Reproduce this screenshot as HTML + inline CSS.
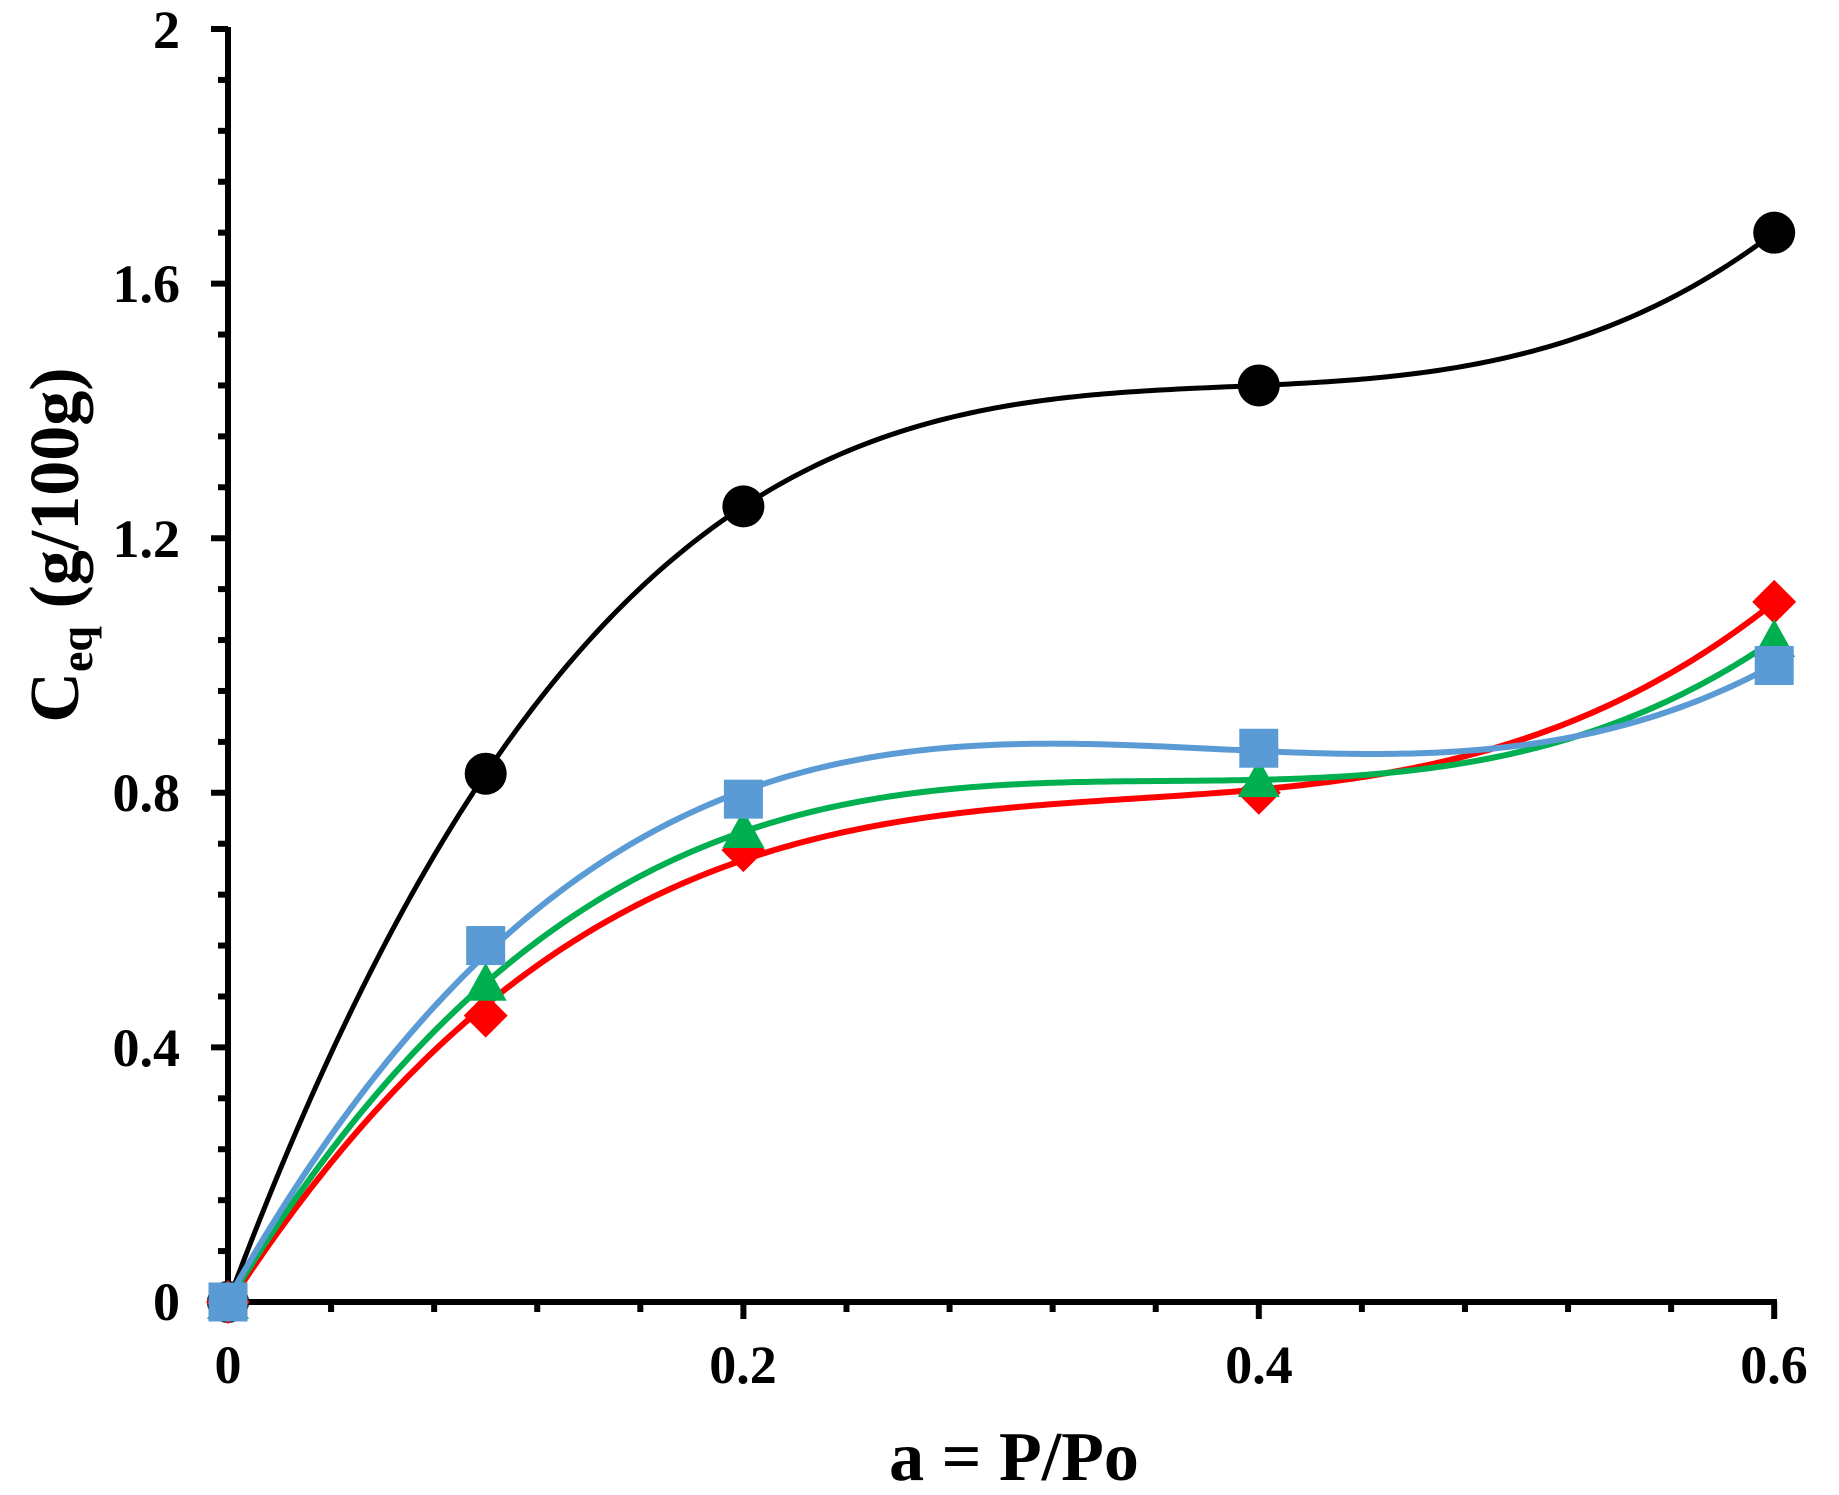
<!DOCTYPE html>
<html><head><meta charset="utf-8"><style>
html,body{margin:0;padding:0;background:#fff;}
svg{display:block;}
</style></head><body>
<svg id="s" width="1839" height="1495" viewBox="0 0 1839 1495" xmlns="http://www.w3.org/2000/svg">
<g id="axes" stroke="#000" stroke-width="6" fill="none">
<line x1="228" y1="27" x2="228" y2="1305"/>
<line x1="225" y1="1302" x2="1777" y2="1302"/>
</g>
<g id="ticks" stroke="#000" stroke-width="6"></g>
<g id="series"></g>
<g font-family="'Liberation Serif', 'Times New Roman', Times, serif" font-weight="bold" fill="#000">
<g font-size="54">
<text x="180" y="48" text-anchor="end">2</text>
<text x="180" y="302" text-anchor="end">1.6</text>
<text x="180" y="557" text-anchor="end">1.2</text>
<text x="180" y="811" text-anchor="end">0.8</text>
<text x="180" y="1066" text-anchor="end">0.4</text>
<text x="180" y="1320" text-anchor="end">0</text>
<text x="228" y="1383" text-anchor="middle">0</text>
<text x="743" y="1383" text-anchor="middle">0.2</text>
<text x="1259" y="1383" text-anchor="middle">0.4</text>
<text x="1774" y="1383" text-anchor="middle">0.6</text>
</g>
<text x="1014" y="1480" text-anchor="middle" font-size="70">a = P/Po</text>
<text transform="translate(78,545) rotate(-90)" text-anchor="middle" font-size="70">C<tspan font-size="46" dy="14">eq</tspan><tspan dy="-14"> (g/100g)</tspan></text>
</g>
</svg>
<script>
function X(v){return 228+v*2577;}
function Y(v){return 1302-v*636.5;}
var tk=document.getElementById("ticks"),h="";
for(var i=0;i<=15;i++){var x=X(i*0.04);var L=(i%5==0)?17:10;h+='<line x1="'+x+'" y1="1302" x2="'+x+'" y2="'+(1302+L)+'"/>';}
for(var j=0;j<=25;j++){var y=Y(j*0.08);var L=(j%5==0)?17:10;h+='<line x1="'+(228-L)+'" y1="'+y+'" x2="228" y2="'+y+'"/>';}
tk.innerHTML=h;
var xs=[0,0.1,0.2,0.4,0.6];
var S=[
 {c:"#000000",v:[0,0.83,1.25,1.44,1.68],m:"o",w:5,deg:4},
 {c:"#FF0000",v:[0,0.45,0.71,0.80,1.10],m:"d",w:6,deg:3},
 {c:"#00B050",v:[0,0.50,0.74,0.82,1.04],m:"t",w:6,deg:3},
 {c:"#5B9BD5",v:[0,0.56,0.79,0.87,1.00],m:"s",w:6,deg:3}
];
function fit(v,deg){
 var n=deg+1,A=[],b=[];
 for(var r=0;r<n;r++){A.push([]);b.push(0);for(var c=0;c<n;c++){var s=0;for(var i=0;i<5;i++)s+=Math.pow(xs[i],r+c);A[r].push(s);}for(var i=0;i<5;i++)b[r]+=v[i]*Math.pow(xs[i],r);}
 for(var k=0;k<n;k++){var p=k;for(var r=k+1;r<n;r++)if(Math.abs(A[r][k])>Math.abs(A[p][k]))p=r;
  var t=A[k];A[k]=A[p];A[p]=t;t=b[k];b[k]=b[p];b[p]=t;
  for(var r=k+1;r<n;r++){var f=A[r][k]/A[k][k];for(var c=k;c<n;c++)A[r][c]-=f*A[k][c];b[r]-=f*b[k];}}
 var co=new Array(n);
 for(var k=n-1;k>=0;k--){var s=b[k];for(var c=k+1;c<n;c++)s-=A[k][c]*co[c];co[k]=s/A[k][k];}
 return co;
}
function ev(co,x){var s=0;for(var i=co.length-1;i>=0;i--)s=s*x+co[i];return s;}
var out="";
S.forEach(function(s){
 var co=fit(s.v,s.deg),d="";
 for(var n=0;n<=300;n++){var x=0.6*n/300;d+=(n?" L":"M")+X(x).toFixed(2)+","+Y(ev(co,x)).toFixed(2);}
 out+='<path d="'+d+'" fill="none" stroke="'+s.c+'" stroke-width="'+s.w+'" stroke-linejoin="round"/>';
 xs.forEach(function(xx,i){
  var x=X(xx),y=Y(s.v[i]);
  if(s.m=="o")out+='<circle cx="'+x+'" cy="'+y+'" r="21" fill="'+s.c+'"/>';
  if(s.m=="s")out+='<rect x="'+(x-19.5)+'" y="'+(y-19.5)+'" width="39" height="39" fill="'+s.c+'"/>';
  if(s.m=="d")out+='<polygon points="'+x+','+(y-22)+' '+(x+22)+','+y+' '+x+','+(y+22)+' '+(x-22)+','+y+'" fill="'+s.c+'"/>';
  if(s.m=="t")out+='<polygon points="'+x+','+(y-21)+' '+(x+21)+','+(y+17)+' '+(x-21)+','+(y+17)+'" fill="'+s.c+'"/>';
 });
});
document.getElementById("series").innerHTML=out;
</script>
</body></html>
